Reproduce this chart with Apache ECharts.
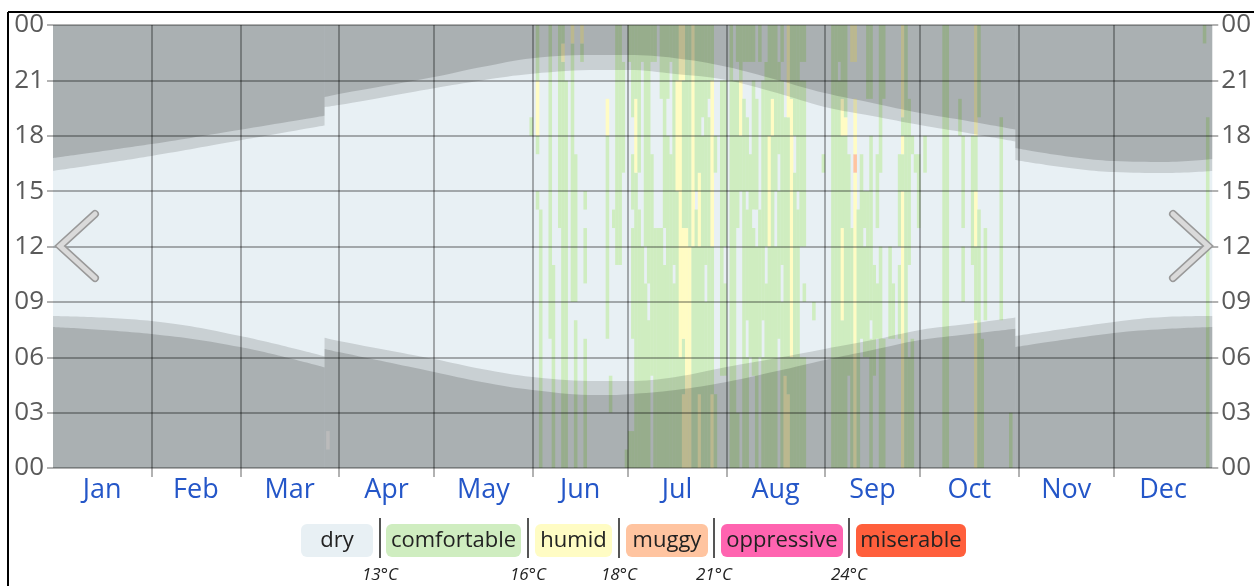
<!DOCTYPE html>
<html><head><meta charset="utf-8">
<script src="https://cdn.jsdelivr.net/npm/echarts@6/dist/echarts.min.js"></script>
<style>html,body{margin:0;padding:0;background:#fff;}#c{width:1254px;height:586px;}</style>
</head><body><div id="c"></div>
<script>
// ---- data ----
const monthNames = ['Jan','Feb','Mar','Apr','May','Jun','Jul','Aug','Sep','Oct','Nov','Dec'];
const monthStarts = [0,31,59,90,120,151,181,212,243,273,304,334,365];
const hourTicks = [0,3,6,9,12,15,18,21,24];

// sun lines (hour of day) at day-of-year; repeated day = clock change (before, after)
const sunDays = [0,31,59,85.5,85.5,90,120,135,151,172,181,196,212,228,243,258,273,288,303,303,334,350,365];
const dawn    = [7.64,7.26,6.55,5.45,6.45,6.28,5.20,4.66,4.23,3.95,4.00,4.23,4.66,5.25,5.85,6.39,6.93,7.25,7.55,6.55,7.31,7.53,7.64];
const sunrise = [8.23,7.96,7.15,6.05,7.05,6.88,5.90,5.36,4.93,4.71,4.71,4.93,5.47,5.96,6.45,6.93,7.48,7.80,8.15,7.15,7.91,8.18,8.23];
const sunset  = [16.09,16.90,17.75,18.55,19.55,19.66,20.58,21.00,21.36,21.56,21.56,21.34,21.02,20.31,19.56,19.07,18.58,18.15,17.69,16.69,16.03,15.98,16.09];
const dusk    = [16.79,17.55,18.33,19.09,20.09,20.26,21.18,21.72,22.20,22.37,22.37,22.20,21.74,21.02,20.31,19.77,19.23,18.80,18.34,17.34,16.63,16.58,16.74];

const bandNames  = ['dry','comfortable','humid','muggy','oppressive','miserable'];
const bandColors = ['#e8f0f4','#cfedc0','#fffcc4','#ffc4a0','#ff64b0','#ff5f3c'];
const bandLimits = ['13°C','16°C','18°C','21°C','24°C'];

// hourly humidity comfort per day (unlisted = dry); c comfortable, h humid, m muggy, x no data
const humidDays = [86,150,152,153,156,157,159,160,161,163,164,166,167,174,175,176,177,178,179,180,181,182,183,184,185,186,187,188,189,190,191,192,193,194,195,196,197,198,199,200,201,202,203,204,205,206,207,208,210,211,213,214,215,216,217,218,219,220,221,222,223,224,225,226,227,228,229,230,231,232,233,234,235,236,239,242,245,246,247,248,249,250,251,252,253,254,255,256,257,258,259,260,261,263,264,266,267,268,269,270,271,272,274,280,281,285,286,289,290,291,292,293,298,301,362,363];
const humidRuns = [
"1x","18c","14c 17c 18-20h 21-23c","0-13c","7-23c","0-10c","13-23c","0-21c 22h 23c","0-20c","9-22c 23h","0-7c 9-16c","22c 23h","0-6c 10-12c 14c",
"7-17c 18-19h","3-4c","13c","11-23c","11-23c","16-21c","0c","0-1c 22-23c","0-1c 7-12c 14-16c 19-23c","0-15c 16-19h 20-23c","0-13c 16-23c",
"0-11c 22-23c","0-9c 12-23c","0-7c 10-23c","5-16c 22-23c","0-12c 22-23c","0-12c","0-12c 20-23c","0-10c 13-23c","0-17c 20-23c",
"0-16c 22-23c","0-9c 11-23c","0-14c 15-20h 21-23c","0-5c 6-23h","0-3h 4-6c 7-12h 13-20c 21-23h","0-12h 13-23c","0-11h 12-23c","0-11c 12-23h",
"0-13c 15-23c","0-3h 4-11c 12-15h 16-23c","0-17c 19-23c","0-8c 11-23c","0-18c 20-23c","0-3h 4-11c 12-20h 21-23c","0-3c 16-17c","5-20c","5-9c 12-20c",
"0-23c","0-20c","0-2c 13-20c 22-23c","15-17c 18-20h 21-23c","0-19c 22-23c","0-5c 8-13c 15-18c 22-23c","6-16c 22-23c",
"5-12c 14-20c 22-23c","0-11c 14-19c","6-13c 22-23c","0-5c 8-20c","0-9c 12-21c","0-11c 12-17h 18-23c","0-17c 18-19h 20-23c",
"0-11c 15-23c","7-14c 17-21c","0-8c 11-20c 22-23c","0-4h 5-18c","0-3h 4-18c 19-21h 22-23h","0-5c 6-19h 20-23c","0-15c 18-23c",
"0-13c 15-23c","0-5c 12-20c 22-23c","0-5c 9c 12-20c 22-23c","8c","16c","0-23c","0-23c","0-20c 22-23c",
"0-7c 8-12h 13-17c 18-19h 20-23c","0-17c 18h 19-23c","5-16c","0-12c 22-23h","0-15h 16m 17-19h 22-23h","0-13c",
"7-16c","6-11c 13-14c","6-14c 20-23c","0-6c 8-17c 20-23c","5-10c","7-9c 13-16c","0-11c 16-23c","0-6c 20-23c","7-11c","7-9c",
"7-10c 12-16c","0-14h 15-16c 17h 18c 19-23h","0-23c","0-5c 11-19c","0-6c 17c","16c","13-16c","16-17c","0-23c","0-23c",
"18-19c","9-11c 13-17c","11-17c","0-7h 8-11c 12-14h 15-17c 18-23h","0-13c 19-23c","0-6c","8-12c","8-18c","0-2c","23c","0-18c"
];

// ---- build ----
const cellColor = {c: bandColors[1], h: bandColors[2], m: bandColors[3], x: '#ffffff'};
const cellKeys = ['c','h','m','x'];
const cellData = [];
humidDays.forEach((d, i) => {
  humidRuns[i].split(' ').forEach(tok => {
    const m = tok.match(/^(\d+)(?:-(\d+))?([chmx])$/);
    if (!m) return;
    const a = +m[1], b = m[2] ? +m[2] : a;
    cellData.push([d, a, b + 1, cellKeys.indexOf(m[3])]);
  });
});
const monthMids = monthNames.map((_, i) => (monthStarts[i] + monthStarts[i + 1]) / 2);
const pad2 = v => String(v % 24).padStart(2, '0');
const gridLine = 'rgba(0,0,0,0.3)';
const FONT = 'Open Sans';

// split sun curves into continuous segments at clock changes
function segments(values) {
  const segs = [[]];
  sunDays.forEach((d, i) => {
    if (i > 0 && d === sunDays[i - 1]) segs.push([]);
    segs[segs.length - 1].push([d, values[i]]);
  });
  return segs;
}
const sunSeries = [];
[[sunrise, 'start', 0.134], [dawn, 'start', 0.154], [sunset, 'end', 0.134], [dusk, 'end', 0.154]].forEach(([vals, origin, a]) => {
  segments(vals).forEach(seg => {
    sunSeries.push({
      type:'line', data:seg, smooth:0.4, showSymbol:false, silent:true, z:3,
      lineStyle:{width:0, opacity:0}, areaStyle:{color:'rgba(0,0,0,' + a + ')', origin:origin, opacity:1}
    });
  });
});

const chart = echarts.init(document.getElementById('c'), null, {renderer: 'canvas'});

// legend graphics (layout)
const legendBoxes = [[301,72],[386,135],[535,77],[626,82],[721,122],[856,110]];
const sepX = [380,528,619,714,849];
const graphics = [];
bandNames.forEach((n, i) => {
  const [x, w] = legendBoxes[i];
  graphics.push({type:'rect', left:x, top:524, shape:{width:w, height:33, r:6}, style:{fill:bandColors[i]}, z:100});
  graphics.push({type:'text', x:x + w/2, y:541, style:{text:n, fill:'#222', font:'22px "' + FONT + '"', align:'center', verticalAlign:'middle'}, z:101});
});
bandLimits.forEach((t, i) => {
  graphics.push({type:'line', shape:{x1:sepX[i], y1:518, x2:sepX[i], y2:558}, style:{stroke:'#555', lineWidth:2}, z:100});
  graphics.push({type:'text', x:sepX[i], y:575, style:{text:t, fill:'#222', font:'italic 17px "' + FONT + '"', align:'center', verticalAlign:'middle'}, z:101});
});
// frame
graphics.push({type:'line', shape:{x1:8, y1:12, x2:1254, y2:12}, style:{stroke:'#000', lineWidth:2}, z:100});
graphics.push({type:'line', shape:{x1:8, y1:12, x2:8, y2:586}, style:{stroke:'#000', lineWidth:2}, z:100});
// navigation chevrons
[[[95,214],[60,246],[95,278]], [[1173,214],[1208,246],[1173,278]]].forEach(pts => {
  graphics.push({type:'polyline', shape:{points:pts}, style:{stroke:'#999', lineWidth:8, fill:null, lineCap:'round', lineJoin:'miter'}, z:110});
  graphics.push({type:'polyline', shape:{points:pts}, style:{stroke:'#dadada', lineWidth:5, fill:null, lineCap:'round', lineJoin:'miter'}, z:111});
});

chart.setOption({
  animation: false,
  grid: {left:53, right:41, top:25, bottom:118, show:true, backgroundColor:bandColors[0], borderWidth:0},
  xAxis: {
    type:'value', min:0, max:365, z:10,
    axisLine:{show:false},
    axisTick:{show:true, length:9, lineStyle:{color:gridLine, width:2}, customValues: monthStarts.slice(1, -1)},
    splitLine:{show:true, lineStyle:{color:gridLine, width:2}},
    axisLabel:{customValues: monthMids, margin:9, color:'#2456c8', fontSize:27, fontFamily:FONT,
      formatter: v => monthNames[monthMids.indexOf(v)] || ''}
  },
  yAxis: [
    {type:'value', min:0, max:24, interval:3, position:'left', z:10,
     axisLine:{show:false}, axisTick:{show:true, length:6, lineStyle:{color:gridLine, width:2}},
     splitLine:{show:true, lineStyle:{color:gridLine, width:2}},
     axisLabel:{formatter:pad2, color:'#5a5a5a', fontSize:26, fontFamily:FONT, margin:9}},
    {type:'value', min:0, max:24, interval:3, position:'right', z:10,
     axisLine:{show:false}, axisTick:{show:true, length:6, lineStyle:{color:gridLine, width:2}},
     splitLine:{show:false},
     axisLabel:{formatter:pad2, color:'#5a5a5a', fontSize:26, fontFamily:FONT, margin:9}}
  ],
  series: [
    {
      type:'custom', name:'humidity', z:2, encode:{x:0, y:1}, data:cellData, silent:true,
      renderItem(params, api) {
        const d = api.value(0), h0 = api.value(1), h1 = api.value(2), k = api.value(3);
        const p0 = api.coord([d, h1]), p1 = api.coord([d + 1, h0]);
        return {type:'rect', shape:{x:p0[0], y:p0[1], width:p1[0] - p0[0] + 0.4, height:p1[1] - p0[1]},
                style:{fill: cellColor[cellKeys[k]]}};
      }
    }
  ].concat(sunSeries),
  graphic: graphics
});
</script></body></html>
